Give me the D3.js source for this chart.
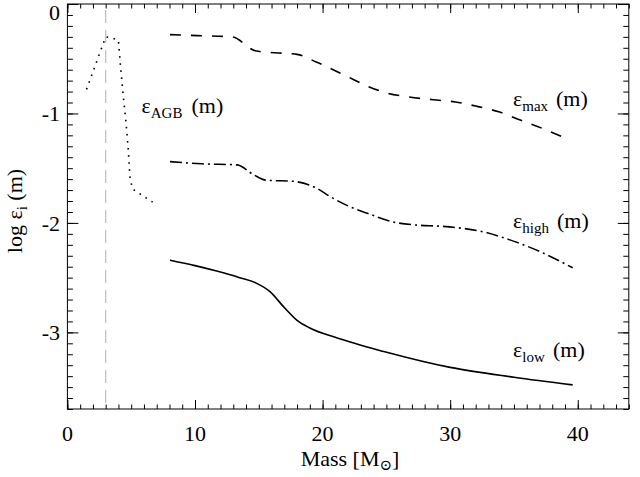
<!DOCTYPE html>
<html><head><meta charset="utf-8">
<script src="https://cdn.jsdelivr.net/npm/d3@7"></script>
<style>
html,body{margin:0;padding:0;background:#fff;}
svg text{font-family:"Liberation Serif","DejaVu Serif",serif;fill:#000;}
</style></head>
<body><svg id="c" width="640" height="477"></svg>
<script>
// ---- data ----
const massAGB = [1.5, 3.0, 3.5, 4.0, 4.1, 4.33, 4.6, 4.77, 4.9, 5.1, 6.68];
const epsAGB  = [-0.78, -0.30, -0.31, -0.33, -0.48, -0.785, -1.09, -1.33, -1.58, -1.69, -1.81];

const massMax = [8.04, 10.5, 12.9, 14.8, 16.9, 18.0, 19.5, 21.9, 23.5, 25.1, 26.8, 28.7, 30.4, 32.1, 33.8, 35.5, 37.2, 39.1];
const epsMax  = [-0.28, -0.29, -0.30, -0.43, -0.45, -0.46, -0.53, -0.66, -0.75, -0.815, -0.85, -0.875, -0.895, -0.935, -0.985, -1.06, -1.135, -1.23];

const massHigh = [8.04, 10.5, 13.3, 14.6, 15.6, 17.7, 19.5, 20.6, 22.1, 23.7, 25.5, 27.4, 29.2, 31.0, 32.9, 34.3, 37.0, 39.6];
const epsHigh  = [-1.44, -1.46, -1.47, -1.56, -1.61, -1.62, -1.68, -1.76, -1.85, -1.92, -1.99, -2.02, -2.03, -2.05, -2.09, -2.14, -2.26, -2.41];

const massLow = [8.04, 10, 11.7, 13.5, 14.8, 15.9, 16.9, 18.0, 19.0, 21.1, 24.8, 30.0, 35.0, 39.6];
const epsLow  = [-2.34, -2.39, -2.44, -2.50, -2.55, -2.63, -2.76, -2.89, -2.96, -3.05, -3.175, -3.32, -3.41, -3.48];

const refMass = [3];
const xTicks = [0, 10, 20, 30, 40];
const xTickLabels = ["0", "10", "20", "30", "40"];
const yTicks = [0, -1, -2, -3];
const yTickLabels = ["0", "-1", "-2", "-3"];
const xDomain = [0, 44];
const yDomain = [-3.7, 0];

// ---- layout ----
const L = 67.4, R = 628.8, T = 4, B = 409;
const svg = d3.select("#c");
const x = d3.scaleLinear().domain(xDomain).range([L, R]);
const y = d3.scaleLinear().domain(yDomain).range([B, T]);

const xMinor = d3.range(0, 45, 1);
const yMinor = d3.range(-37, 1, 1).map(v => v / 10);

// reference dashed line
svg.selectAll(".ref").data(refMass).join("line")
  .attr("x1", d => x(d)).attr("x2", d => x(d))
  .attr("y1", T + 6).attr("y2", B)
  .attr("stroke", "#bdbdbd").attr("stroke-width", 1.2)
  .attr("stroke-dasharray", "13,7");

// ticks via axes
function ax(gen, scale, vals, size, tf) {
  const g = svg.append("g").attr("transform", tf)
    .call(gen(scale).tickValues(vals).tickSize(size).tickFormat(""));
  g.select(".domain").remove();
  g.selectAll(".tick line").attr("stroke", "#000").attr("stroke-width", 1);
  return g;
}
ax(d3.axisBottom, x, xTicks, -9, `translate(0,${B})`);
ax(d3.axisBottom, x, xMinor, -4.5, `translate(0,${B})`);
ax(d3.axisTop, x, xTicks, -9, `translate(0,${T})`);
ax(d3.axisTop, x, xMinor, -4.5, `translate(0,${T})`);
ax(d3.axisLeft, y, yTicks, -11, `translate(${L},0)`);
ax(d3.axisLeft, y, yMinor, -5.5, `translate(${L},0)`);
ax(d3.axisRight, y, yTicks, -11, `translate(${R},0)`);
ax(d3.axisRight, y, yMinor, -5.5, `translate(${R},0)`);

svg.append("rect").attr("x", L).attr("y", T).attr("width", R - L).attr("height", B - T)
  .attr("fill", "none").attr("stroke", "#000").attr("stroke-width", 1);

// tick labels
svg.selectAll(".xl").data(xTicks).join("text")
  .attr("x", d => x(d)).attr("y", 441).attr("text-anchor", "middle")
  .attr("font-size", 22).text((d, i) => xTickLabels[i]);
svg.selectAll(".yl").data(yTicks).join("text")
  .attr("x", 60).attr("y", d => Math.max(y(d) + 8, 20)).attr("text-anchor", "end")
  .attr("font-size", 22).text((d, i) => yTickLabels[i]);

// axis titles
const xt = svg.append("text").attr("x", 350).attr("y", 466).attr("text-anchor", "middle").attr("font-size", 22);
xt.append("tspan").text("Mass [M");
xt.append("tspan").attr("font-size", 15).attr("dy", 4).text("\u2299");
xt.append("tspan").attr("dy", -4).text("]");

const yt = svg.append("text").attr("transform", "translate(22,211) rotate(-90)").attr("text-anchor", "middle").attr("font-size", 22);
yt.append("tspan").text("log \u03b5");
yt.append("tspan").attr("font-size", 15).attr("dy", 5).text("i");
yt.append("tspan").attr("dy", -5).text(" (m)");

// curves
function draw(xs, ys, dash, curve) {
  const pts = xs.map((m, i) => [m, ys[i]]);
  svg.append("path").datum(pts)
    .attr("d", d3.line().x(d => x(d[0])).y(d => y(d[1])).curve(curve))
    .attr("fill", "none").attr("stroke", "#000").attr("stroke-width", 1.6)
    .attr("stroke-dasharray", dash);
}
draw(massAGB, epsAGB, "1.6,5.5", d3.curveLinear);
draw(massMax, epsMax, "11,10", d3.curveMonotoneX);
draw(massHigh, epsHigh, "12,4,2,4", d3.curveMonotoneX);
draw(massLow, epsLow, null, d3.curveMonotoneX);

// curve labels
function label(x0, yb, sub, xm) {
  const t = svg.append("text").attr("y", yb).attr("font-size", 22);
  t.append("tspan").attr("x", x0).text("\u03b5");
  t.append("tspan").attr("font-size", 15).attr("dy", 5).text(sub);
  t.append("tspan").attr("x", xm).attr("dy", -5).text("(m)");
}
label(141.5, 113, "AGB", 191.5);
label(513, 106, "max", 556);
label(513, 228, "high", 557);
label(513, 357, "low", 553);
</script></body></html>
